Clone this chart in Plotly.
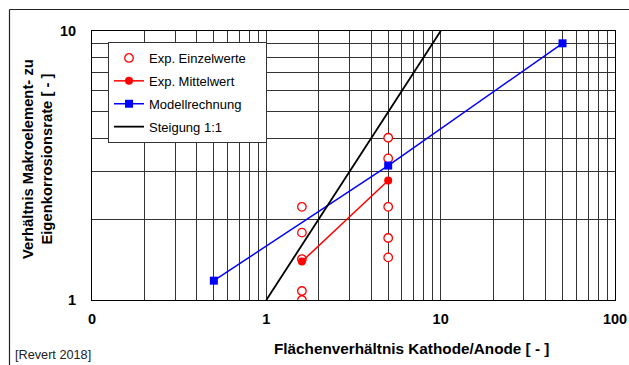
import plotly.graph_objects as go

# --- data ---
einzel_x = [1.6, 1.6, 1.6, 1.6, 1.6, 5, 5, 5, 5, 5]
einzel_y = [2.22, 1.78, 1.42, 1.08, 1.0, 4.01, 3.36, 2.22, 1.70, 1.44]

mittel_x = [1.6, 5]
mittel_y = [1.39, 2.78]

modell_x = [0.5, 5, 50]
modell_y = [1.18, 3.16, 9.0]

steigung_x = [1, 10]
steigung_y = [1, 10]

x_tickvals = [0.1, 0.2, 0.3, 0.4, 0.5, 0.6, 0.7, 0.8, 0.9,
              1, 2, 3, 4, 5, 6, 7, 8, 9,
              10, 20, 30, 40, 50, 60, 70, 80, 90, 100]
x_ticktext = ["0", "", "", "", "", "", "", "", "",
              "1", "", "", "", "", "", "", "", "",
              "10", "", "", "", "", "", "", "", "", "100"]
y_tickvals = [1, 2, 3, 4, 5, 6, 7, 8, 9, 10]
y_ticktext = ["1", "", "", "", "", "", "", "", "", "10"]

FONT = "Arial, Liberation Sans, sans-serif"
GRID = "#333333"
PAD = "\u00a0" * 4

fig = go.Figure()
fig.add_trace(go.Scatter(
    x=einzel_x, y=einzel_y, mode="markers", name="Exp. Einzelwerte" + PAD,
    legendgroup="a",
    marker=dict(symbol="circle", size=8.5, color="white",
                line=dict(color="#ff0000", width=1.3))))
fig.add_trace(go.Scatter(
    x=mittel_x, y=mittel_y, mode="lines+markers", name="Exp. Mittelwert",
    legendgroup="b",
    line=dict(color="#ff0000", width=1.5),
    marker=dict(symbol="circle", size=8, color="#ff0000")))
fig.add_trace(go.Scatter(
    x=modell_x, y=modell_y, mode="lines+markers", name="Modellrechnung",
    legendgroup="c",
    line=dict(color="#0000ff", width=1.5),
    marker=dict(symbol="square", size=8, color="#0000ff")))
fig.add_trace(go.Scatter(
    x=steigung_x, y=steigung_y, mode="lines", name="Steigung 1:1",
    legendgroup="d",
    line=dict(color="#000000", width=1.8)))

fig.update_layout(
    width=629, height=365,
    margin=dict(l=92, r=14, t=31, b=65, autoexpand=False),
    paper_bgcolor="white", plot_bgcolor="white",
    font=dict(family=FONT, color="black"),
    showlegend=True,
    legend=dict(
        x=(108 - 92) / 523, y=(300 - 42) / 269,
        xanchor="left", yanchor="top",
        bgcolor="white", bordercolor="#333333", borderwidth=1,
        font=dict(family=FONT, size=13, color="black"),
        tracegroupgap=3, traceorder="grouped",
    ),
    xaxis=dict(
        type="log", range=[-1, 2], automargin=False,
        tickvals=x_tickvals, ticktext=x_ticktext,
        showgrid=True, gridcolor=GRID, gridwidth=1,
        showline=True, linecolor="black", linewidth=1, mirror=True,
        zeroline=False, ticks="",
        ticklabelstandoff=6,
        tickfont=dict(family=FONT, size=14.5, weight="bold", color="black"),
    ),
    yaxis=dict(
        type="log", range=[0, 1], automargin=False,
        tickvals=y_tickvals, ticktext=y_ticktext,
        showgrid=True, gridcolor=GRID, gridwidth=1,
        showline=True, linecolor="black", linewidth=1, mirror=True,
        zeroline=False, ticks="",
        ticklabelstandoff=12,
        tickfont=dict(family=FONT, size=14.5, weight="bold", color="black"),
    ),
    annotations=[
        dict(text="Flächenverhältnis Kathode/Anode [ - ]",
             xref="paper", yref="paper",
             x=(411 - 92) / 523, y=(300 - 348) / 269,
             xanchor="center", yanchor="middle", showarrow=False,
             font=dict(family=FONT, size=15.3, weight="bold", color="black")),
        dict(text="Verhältnis Makroelement- zu<br>Eigenkorrosionsrate [ - ]",
             xref="paper", yref="paper",
             x=(37 - 92) / 523, y=(300 - 159) / 269,
             xanchor="center", yanchor="middle", showarrow=False,
             textangle=-90,
             font=dict(family=FONT, size=14.8, weight="bold", color="black")),
        dict(text="[Revert 2018]",
             xref="paper", yref="paper",
             x=(13 - 92) / 523, y=(300 - 355) / 269,
             xanchor="left", yanchor="middle", showarrow=False,
             font=dict(family=FONT, size=12.7, color="#222222")),
    ],
    shapes=[
        dict(type="line", xref="paper", yref="paper",
             x0=(9.5 - 92) / 523, x1=(9.5 - 92) / 523,
             y0=(300 - 9.5) / 269, y1=(300 - 400) / 269,
             line=dict(color="#222222", width=1.2)),
        dict(type="line", xref="paper", yref="paper",
             x0=(9.5 - 92) / 523, x1=(660 - 92) / 523,
             y0=(300 - 9.5) / 269, y1=(300 - 9.5) / 269,
             line=dict(color="#222222", width=1.2)),
    ],
)

fig.write_html("out.html")
